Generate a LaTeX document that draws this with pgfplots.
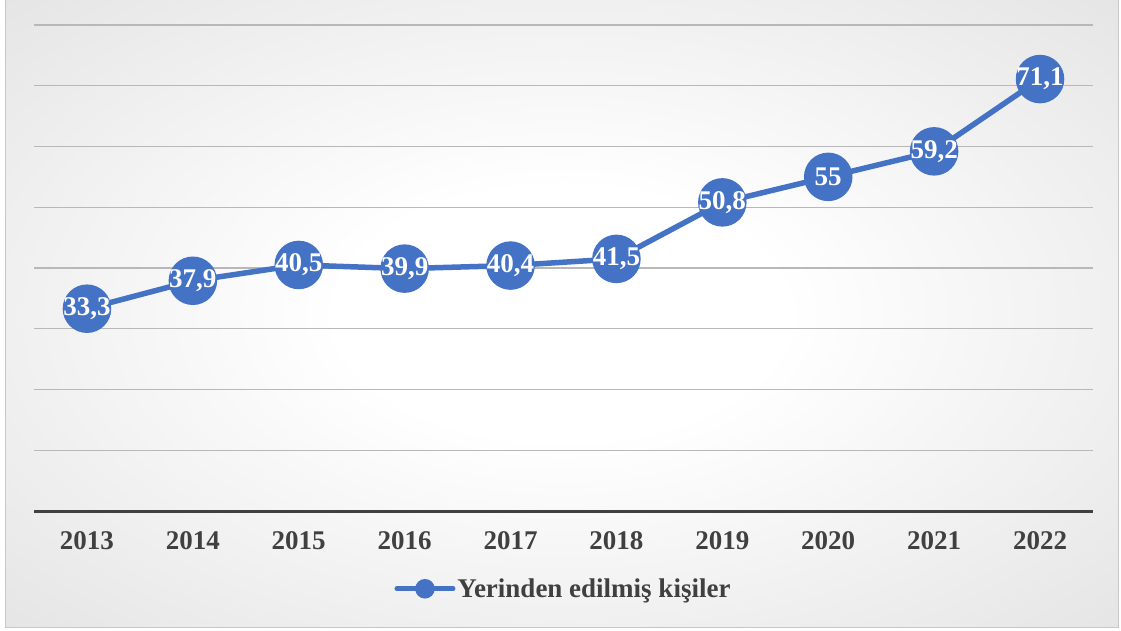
\documentclass[border=0pt]{standalone}
\usepackage{fontspec}
\setmainfont{Liberation Serif}
\usepackage{pgfplots}
\pgfplotsset{compat=1.18}
\definecolor{serblue}{HTML}{4472C4}
\definecolor{txtgray}{HTML}{404040}
\definecolor{gridgray}{HTML}{B8B8B8}
\pgfdeclareradialshading{bgshade}{\pgfpoint{0bp}{0bp}}{%
  color(0bp)=(white); color(10bp)=(white); color(40bp)=(black!12); color(55bp)=(black!18); color(72bp)=(black!24)}
\begin{document}
\begin{tikzpicture}[x=1pt,y=1pt]
\useasboundingbox (0,0) rectangle (1121,630);
\fill[white] (0,0) rectangle (1121,630);
\shade[shading=bgshade] (5,3) rectangle (1118,630);
\draw[black!22, line width=1pt] (5,3) rectangle (1118,630);
\begin{axis}[
  at={(34pt,119pt)}, anchor=south west,
  scale only axis, width=1059pt, height=486pt,
  xmin=-0.5, xmax=9.5, ymin=0, ymax=80,
  axis x line*=bottom, axis y line*=left,
  x axis line style={-, color=txtgray, line width=3pt},
  y axis line style={draw=none},
  xtick=data,
  xticklabels={2013,2014,2015,2016,2017,2018,2019,2020,2021,2022},
  xticklabel style={font=\fontsize{27}{30}\selectfont\bfseries, text=txtgray, anchor=center, yshift=-30pt},
  major tick length=0pt,
  ytick={10,20,...,80},
  yticklabel=\empty,
  ymajorgrids, grid style={gridgray, line width=1.3pt},
  clip=false,
  /pgf/number format/assume math mode=true,
  /pgf/number format/use comma,
  nodes near coords,
  every node near coord/.style={anchor=center, text=white, font=\fontsize{27}{30}\selectfont\bfseries},
  legend style={at={(0.5,-0.16)}, anchor=center, draw=none, fill=none,
    font=\fontsize{27}{30}\selectfont\bfseries, text=txtgray},
  legend image code/.code={
    \draw[serblue, line width=5pt, line cap=round] (0pt,0pt) -- (56pt,0pt);
    \fill[serblue] (28pt,0pt) circle (7pt);
  },
]
\addplot[serblue, line width=5.5pt, mark=*, mark size=21.5pt, mark options={draw=none, fill=serblue}]
  coordinates {(0,33.3) (1,37.9) (2,40.5) (3,39.9) (4,40.4) (5,41.5) (6,50.8) (7,55) (8,59.2) (9,71.1)};
\addlegendentry{Yerinden edilmiş kişiler}
\end{axis}
\end{tikzpicture}
\end{document}
